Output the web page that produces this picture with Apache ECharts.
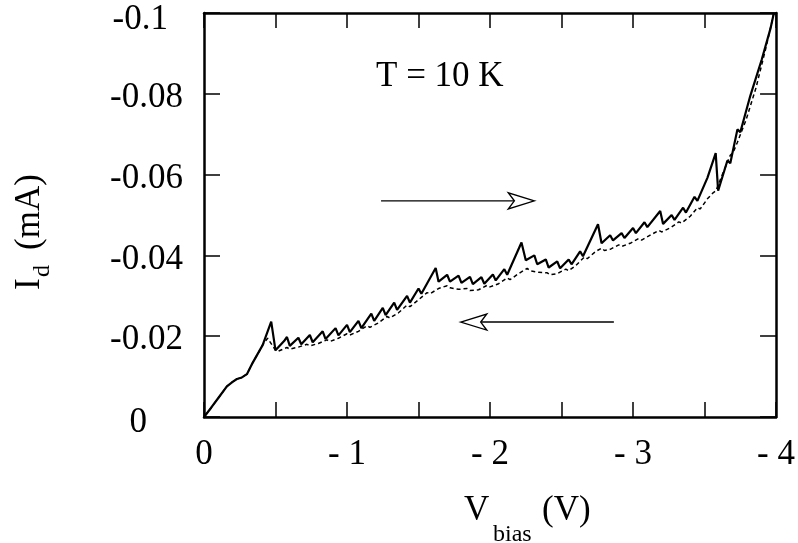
<!DOCTYPE html>
<html><head><meta charset="utf-8">
<script src="https://cdn.jsdelivr.net/npm/echarts@6/dist/echarts.min.js"></script>
<style>html,body{margin:0;padding:0;background:#fff}#c{width:798px;height:543px}</style>
</head><body><div id="c"></div>
<script>
// ---- data ----
const yTickLabels = ['0', '-0.02', '-0.04', '-0.06', '-0.08', '-0.1'];
const xTickLabels = ['0', '- 1', '- 2', '- 3', '- 4'];

// forward sweep 0 -> -4 V (solid)
const sweepUpV = [0,-0.05,-0.10,-0.16,-0.20,-0.23,-0.26,-0.30,-0.34,-0.41,-0.47,-0.50,-0.56,-0.58,-0.60,-0.66,-0.68,-0.74,-0.76,-0.83,-0.85,-0.92,-0.94,-1.00,-1.02,-1.08,-1.10,-1.17,-1.19,-1.25,-1.27,-1.33,-1.35,-1.42,-1.44,-1.50,-1.52,-1.62,-1.64,-1.70,-1.72,-1.78,-1.80,-1.86,-1.88,-1.94,-1.96,-2.02,-2.04,-2.10,-2.12,-2.22,-2.25,-2.31,-2.33,-2.39,-2.41,-2.47,-2.49,-2.55,-2.57,-2.63,-2.65,-2.755,-2.78,-2.84,-2.86,-2.92,-2.94,-3.00,-3.02,-3.08,-3.10,-3.19,-3.21,-3.27,-3.29,-3.35,-3.37,-3.43,-3.45,-3.52,-3.578,-3.595,-3.66,-3.68,-3.73,-3.75,-3.82,-3.90,-3.96,-3.985];
const sweepUpI = [0,-0.0023,-0.0047,-0.0076,-0.0087,-0.0094,-0.0097,-0.0106,-0.0134,-0.0178,-0.0236,-0.0165,-0.0188,-0.0198,-0.0176,-0.0196,-0.0180,-0.0203,-0.0185,-0.0212,-0.0193,-0.0220,-0.0202,-0.0228,-0.0210,-0.0238,-0.0220,-0.0256,-0.0238,-0.0270,-0.0252,-0.0283,-0.0265,-0.0300,-0.0283,-0.0318,-0.0305,-0.0369,-0.0335,-0.0352,-0.0335,-0.0350,-0.0332,-0.0347,-0.0329,-0.0346,-0.0330,-0.0353,-0.0338,-0.0366,-0.0352,-0.0432,-0.0388,-0.0400,-0.0378,-0.0390,-0.0370,-0.0385,-0.0368,-0.0390,-0.0378,-0.0410,-0.0398,-0.0477,-0.0430,-0.0450,-0.0437,-0.0455,-0.0443,-0.0468,-0.0455,-0.0482,-0.0470,-0.0510,-0.0478,-0.0500,-0.0488,-0.0518,-0.0506,-0.0545,-0.0535,-0.0592,-0.0653,-0.0560,-0.0635,-0.0628,-0.0712,-0.0705,-0.0795,-0.0885,-0.0960,-0.1000];

// reverse sweep -4 -> 0 V (dashed)
const sweepDownV = [-3.985,-3.93,-3.86,-3.79,-3.73,-3.70,-3.68,-3.63,-3.58,-3.56,-3.52,-3.47,-3.45,-3.40,-3.34,-3.32,-3.26,-3.20,-3.18,-3.12,-3.06,-3.04,-2.98,-2.92,-2.90,-2.84,-2.80,-2.78,-2.74,-2.68,-2.66,-2.60,-2.55,-2.53,-2.47,-2.42,-2.40,-2.34,-2.28,-2.26,-2.20,-2.14,-2.12,-2.06,-2.00,-1.98,-1.92,-1.86,-1.84,-1.78,-1.72,-1.70,-1.64,-1.58,-1.56,-1.50,-1.44,-1.42,-1.36,-1.30,-1.28,-1.22,-1.16,-1.14,-1.08,-1.02,-1.00,-0.94,-0.88,-0.86,-0.80,-0.74,-0.72,-0.66,-0.60,-0.58,-0.52,-0.50,-0.445,-0.41,-0.34,-0.30,-0.26,-0.23,-0.20,-0.16,-0.10,-0.05,0];
const sweepDownI = [-0.1000,-0.0915,-0.0815,-0.0735,-0.0680,-0.0655,-0.0648,-0.0605,-0.0560,-0.0555,-0.0540,-0.0515,-0.0518,-0.0497,-0.0480,-0.0483,-0.0468,-0.0458,-0.0462,-0.0450,-0.0438,-0.0442,-0.0430,-0.0422,-0.0426,-0.0415,-0.0412,-0.0418,-0.0410,-0.0392,-0.0396,-0.0375,-0.0362,-0.0366,-0.0355,-0.0352,-0.0357,-0.0358,-0.0362,-0.0368,-0.0355,-0.0340,-0.0344,-0.0330,-0.0322,-0.0326,-0.0315,-0.0313,-0.0318,-0.0316,-0.0320,-0.0325,-0.0318,-0.0305,-0.0308,-0.0290,-0.0273,-0.0277,-0.0258,-0.0245,-0.0249,-0.0233,-0.0222,-0.0226,-0.0212,-0.0203,-0.0206,-0.0195,-0.0187,-0.0191,-0.0182,-0.0176,-0.0180,-0.0173,-0.0168,-0.0172,-0.0163,-0.0165,-0.0195,-0.0178,-0.0134,-0.0106,-0.0097,-0.0094,-0.0087,-0.0076,-0.0047,-0.0023,0];

// sweep-direction arrows (data units)
const arrowFromV = [-1.238, -2.866];
const arrowToV = [-2.31, -1.795];
const arrowI = [-0.0535, -0.0235];

// ---- chart ----
const SERIF = '"Liberation Serif", "Times New Roman", serif';
const FS = 35;
const chart = echarts.init(document.getElementById('c'), null, {renderer: 'canvas'});

const upData = sweepUpV.map((v, k) => [v, sweepUpI[k]]);
const downData = sweepDownV.map((v, k) => [v, sweepDownI[k]]);
const arrowData = arrowFromV.map((v, k) => [v, arrowToV[k], arrowI[k]]);

const axisLine = {show: true, onZero: false, lineStyle: {color: '#000', width: 2.5}};
const tickStyle = {color: '#000', width: 1.5};
const rs = (pad) => ({fontFamily: SERIF, fontSize: FS, color: '#000', padding: pad});

function xLabel(v) {
  const k = -v;
  if (Math.abs(k - Math.round(k)) > 1e-6) return '';
  return xTickLabels[Math.round(k)];
}
function yLabel(v) {
  const k = Math.round(-v / 0.02);
  const key = k === 0 ? 'z' : (k === 5 ? 't' : 'a');
  return '{' + key + '|' + yTickLabels[k] + '}';
}

chart.setOption({
  animation: false,
  backgroundColor: '#fff',
  grid: {left: 204, top: 13, width: 575, height: 404, containLabel: false},
  xAxis: [
    {type: 'value', min: -4, max: 0, interval: 0.5, inverse: true, position: 'bottom',
     axisLine: axisLine, axisTick: {show: true, inside: true, length: 15, lineStyle: tickStyle},
     axisLabel: {formatter: xLabel, fontFamily: SERIF, fontSize: FS, color: '#000', margin: 20, showMinLabel: true, showMaxLabel: true},
     splitLine: {show: false}},
    {type: 'value', min: -4, max: 0, interval: 0.5, inverse: true, position: 'top',
     axisLine: axisLine, axisTick: {show: true, inside: true, length: 15, lineStyle: tickStyle},
     axisLabel: {show: false}, splitLine: {show: false}}
  ],
  yAxis: [
    {type: 'value', min: -0.1, max: 0, interval: 0.02, inverse: true, position: 'left',
     axisLine: axisLine, axisTick: {show: true, inside: true, length: 16, lineStyle: tickStyle},
     axisLabel: {formatter: yLabel, margin: 21, showMinLabel: true, showMaxLabel: true,
       rich: {a: rs([8, 0, 0, 0]), t: rs([14, 15, 0, 0]), z: rs([12, 36, 0, 0])}},
     splitLine: {show: false}},
    {type: 'value', min: -0.1, max: 0, interval: 0.02, inverse: true, position: 'right',
     axisLine: axisLine, axisTick: {show: true, inside: true, length: 16, lineStyle: tickStyle},
     axisLabel: {show: false}, splitLine: {show: false}}
  ],
  series: [
    {type: 'line', name: 'sweep up', data: upData, showSymbol: false, symbol: 'none',
     lineStyle: {color: '#000', width: 2.2}, z: 3},
    {type: 'line', name: 'sweep down', data: downData, showSymbol: false, symbol: 'none',
     lineStyle: {color: '#000', width: 1.5, type: [4, 3]}, z: 2},
    {type: 'custom', name: 'arrows', data: arrowData, encode: {x: [0, 1], y: 2}, silent: true, clip: false,
     renderItem: function (params, api) {
       const a = api.coord([api.value(0), api.value(2)]);
       const b = api.coord([api.value(1), api.value(2)]);
       const dir = Math.sign(b[0] - a[0]);
       const L = 26, H = 8, N = 6;
       const backX = b[0] - dir * L;
       const notchX = backX + dir * N;
       return {type: 'group', children: [
         {type: 'line', shape: {x1: a[0], y1: a[1], x2: notchX, y2: b[1]}, style: {stroke: '#000', lineWidth: 1.4}},
         {type: 'polygon', shape: {points: [[b[0], b[1]], [backX, b[1] - H], [notchX, b[1]], [backX, b[1] + H]]},
          style: {fill: '#fff', stroke: '#000', lineWidth: 1.4}}
       ]};
     }}
  ],
  graphic: [
    {type: 'text', x: 376, y: 77, style: {text: 'T = 10 K', font: FS + 'px ' + SERIF, fill: '#000', textAlign: 'left', textVerticalAlign: 'middle', align: 'left', verticalAlign: 'middle'}},
    {type: 'group', x: 0, y: 0, children: [
      {type: 'text', x: 464, y: 511, style: {text: 'V', font: FS + 'px ' + SERIF, fill: '#000', textAlign: 'left', textVerticalAlign: 'middle', align: 'left', verticalAlign: 'middle'}},
      {type: 'text', x: 493, y: 535, style: {text: 'bias', font: '24px ' + SERIF, fill: '#000', textAlign: 'left', textVerticalAlign: 'middle', align: 'left', verticalAlign: 'middle'}},
      {type: 'text', x: 542, y: 511, style: {text: '(V)', font: FS + 'px ' + SERIF, fill: '#000', textAlign: 'left', textVerticalAlign: 'middle', align: 'left', verticalAlign: 'middle'}}
    ]},
    {type: 'group', x: 30, y: 292, rotation: Math.PI / 2, children: [
      {type: 'text', x: 2, y: 0, style: {text: 'I', font: FS + 'px ' + SERIF, fill: '#000', textAlign: 'left', textVerticalAlign: 'middle', align: 'left', verticalAlign: 'middle'}},
      {type: 'text', x: 15, y: 13, style: {text: 'd', font: '24px ' + SERIF, fill: '#000', textAlign: 'left', textVerticalAlign: 'middle', align: 'left', verticalAlign: 'middle'}},
      {type: 'text', x: 42, y: 0, style: {text: '(mA)', font: FS + 'px ' + SERIF, fill: '#000', textAlign: 'left', textVerticalAlign: 'middle', align: 'left', verticalAlign: 'middle'}}
    ]}
  ]
});
</script></body></html>
